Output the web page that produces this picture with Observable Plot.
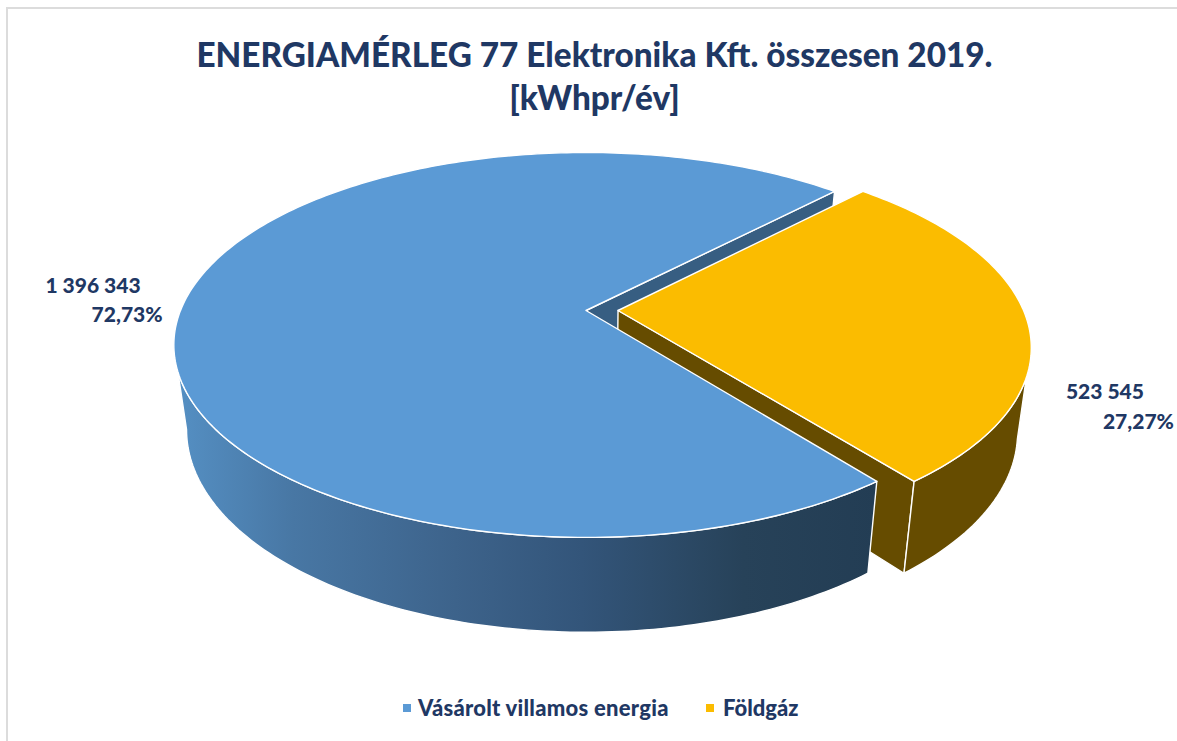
<!DOCTYPE html>
<html><head><meta charset="utf-8">
<script src="https://cdn.jsdelivr.net/npm/d3@7"></script>
<script src="https://cdn.jsdelivr.net/npm/@observablehq/plot@0.6"></script>
<style>
html,body{margin:0;background:#fff}
#page{position:relative;width:1177px;height:741px;overflow:hidden;font-family:Lato,sans-serif;color:#1f3864}
#frame{position:absolute;left:6px;top:7px;width:1200px;height:800px;border:2px solid #dcdcdc;box-sizing:border-box}
#title{position:absolute;left:0;top:33px;width:1189px;text-align:center;font-weight:900;font-size:33.3px;line-height:43px}
#chart{position:absolute;left:0;top:130px}
#legend{position:absolute;top:694px;left:0;width:1177px;height:28px;font-weight:900;font-size:22px;line-height:28px}
#legend span{position:absolute;white-space:nowrap}
#legend i{position:absolute;width:8px;height:8px;top:10px}
</style></head><body>
<div id="page">
<div id="frame"></div>
<div id="title">ENERGIAMÉRLEG 77 Elektronika Kft. összesen 2019.<br>[kWhpr/év]</div>
<div id="chart"></div>
<div id="legend"></div>
</div>
<script>
const categories = ["Vásárolt villamos energia", "Földgáz"];
const values = [1396343, 523545];
const valueLabels = ["1 396 343", "523 545"];
const percentLabels = ["72,73%", "27,27%"];
const colors = ["#5b9ad5", "#fbbc00"];
const wallColors = ["#375e82", "#664c00"];

// perspective view of the pie's top and bottom faces
const topFace = {ax: 585.5, ay: 310, k: 405.5, m: 186.3, t: 0.179};
const botFace = {ax: 585.5, ay: 393, k: 393, m: 196, t: 0.179};
const explode = [0.079, 0];
const rad = d => d * Math.PI / 180;
const total = d3.sum(values);
const yellowSweep = 360 * values[1] / total;
const yellowStart = -46.2;
const yellowEnd = yellowStart + yellowSweep;

function project(f, u, v) {
  const w = 1 - f.t * v;
  return {x: f.ax + f.k * u / w, y: f.ay + f.m * v / w};
}
function rim(f, deg, off = [0, 0]) {
  return project(f, off[0] + Math.cos(rad(deg)), off[1] + Math.sin(rad(deg)));
}
function arc(f, a, b, off) {
  const n = Math.ceil(Math.abs(b - a));
  return d3.range(n + 1).map(i => rim(f, a + (b - a) * i / n, off));
}
const close = p => [...p, p[0]];
const facet = (pts, fill) => Plot.line(close(pts), {x: "x", y: "y", fill, stroke: "#fff", strokeWidth: 1.4, strokeLinejoin: "round"});

const blueTop = [project(topFace, 0, 0), ...arc(topFace, yellowEnd, yellowStart + 360)];
const blueInner = [project(topFace, 0, 0), rim(topFace, yellowStart), rim(botFace, yellowStart), project(botFace, 0, 0)];
const blueOuter = [...arc(topFace, yellowEnd, 169.7), ...arc(botFace, 169.7, yellowEnd)];
const yellowTop = [project(topFace, ...explode), ...arc(topFace, yellowStart, yellowEnd, explode)];
const yellowInner = [project(topFace, ...explode), rim(topFace, yellowEnd, explode), rim(botFace, yellowEnd, explode), project(botFace, ...explode)];
const yellowOuter = [...arc(topFace, 10, yellowEnd, explode), ...arc(botFace, yellowEnd, 13, explode)];

const blueMid = rim(topFace, yellowEnd + (360 - yellowSweep) / 2);
const yellowMid = rim(topFace, yellowStart + yellowSweep / 2, explode);
const labels = [
  {...blueMid, text: valueLabels[0], dx: -44, dy: -15},
  {...blueMid, text: percentLabels[0], dx: -22, dy: 14},
  {...yellowMid, text: valueLabels[1], dx: 117, dy: 72},
  {...yellowMid, text: percentLabels[1], dx: 147, dy: 102}
];

function gradient() {
  const defs = d3.create("svg:defs");
  const g = defs.append("linearGradient").attr("id", "wall").attr("x1", 0).attr("x2", 1).attr("y1", 0).attr("y2", 0);
  [[0, "#5590c4"], [0.17, "#4877a4"], [0.4, "#3d638b"], [0.58, "#33557a"], [0.81, "#274259"], [1, "#233d54"]]
    .forEach(([o, c]) => g.append("stop").attr("offset", o).attr("stop-color", c));
  return defs.node();
}

const chart = Plot.plot({
  width: 1177, height: 550, margin: 0,
  x: {domain: [0, 1177], range: [0, 1177], axis: null},
  y: {domain: [130, 680], range: [0, 550], axis: null},
  style: {background: "transparent", fontFamily: "Lato, sans-serif"},
  marks: [
    gradient,
    facet(blueInner, wallColors[0]),
    facet(yellowInner, wallColors[1]),
    facet(yellowOuter, wallColors[1]),
    facet(yellowTop, colors[1]),
    facet(blueOuter, "url(#wall)"),
    facet(blueTop, colors[0]),
    ...labels.map(l => Plot.text([l], {x: "x", y: "y", text: "text", dx: l.dx, dy: l.dy, textAnchor: "end",
      fontSize: 21, fontWeight: 900, fill: "#1f3864"}))
  ]
});
document.getElementById("chart").append(chart);

const legend = document.getElementById("legend");
const spots = [[403, 418, "0.25px"], [706, 723, "0"]];
categories.forEach((c, i) => {
  const sw = document.createElement("i");
  sw.style.left = spots[i][0] + "px"; sw.style.background = colors[i];
  const s = document.createElement("span");
  s.style.left = spots[i][1] + "px"; s.style.letterSpacing = spots[i][2]; s.textContent = c;
  legend.append(sw, s);
});
</script>
</body></html>
